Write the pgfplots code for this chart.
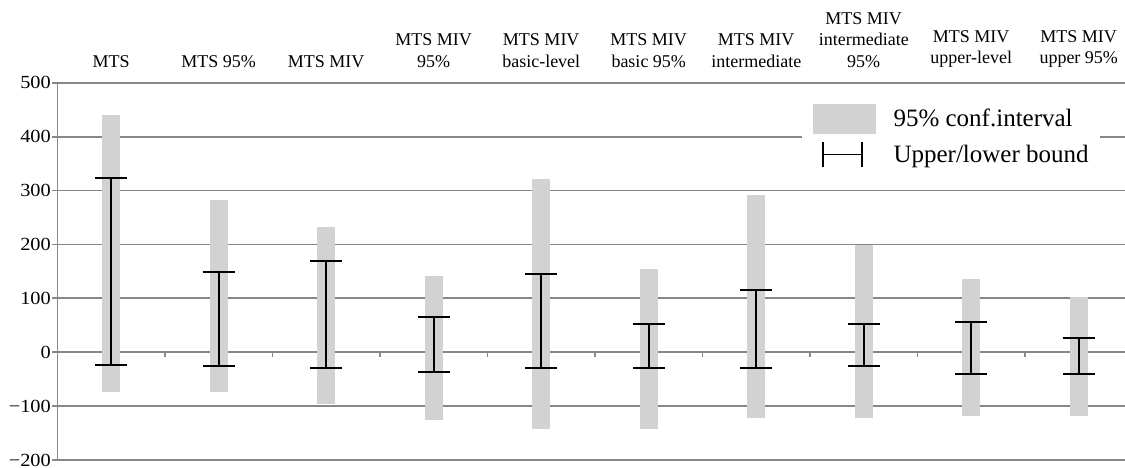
\documentclass[border=0pt]{standalone}
\usepackage{fontspec}
\setmainfont{Liberation Serif}
\newfontfamily\tickfont[FakeStretch=1.1]{Liberation Serif}
\usepackage{pgfplots}
\pgfplotsset{compat=1.18}
\definecolor{barfill}{RGB}{210,210,210}
\definecolor{gridc}{RGB}{135,135,135}
\begin{document}
\begin{tikzpicture}
\path[use as bounding box] (-57.5pt,-8pt) rectangle (1067.5pt,460pt);
\begin{axis}[
  scale only axis,
  width=1067.5pt, height=377.3pt,
  xmin=-0.5, xmax=9.43,
  ymin=-200, ymax=500,
  axis y line*=left,
  axis x line*=top,
  x axis line style={draw=none},
  y axis line style={gridc, line width=1.8pt},
  xtick={0,...,9},
  xtick style={draw=none},
  xticklabels={{MTS},{MTS 95\%},{MTS MIV},{MTS MIV\\95\%},{MTS MIV\\basic-level},{MTS MIV\\basic 95\%},{MTS MIV\\intermediate},{MTS MIV\\intermediate\\95\%},{MTS MIV\\upper-level},{MTS MIV\\upper 95\%}},
  xticklabel style={anchor=south, align=center, inner sep=0pt, font=\fontsize{18}{21.5}\selectfont, yshift=10pt},
  ytick={-200,-100,0,100,200,300,400,500},
  yticklabels={−200,−100,0,100,200,300,400,500},
  yticklabel style={font=\tickfont\fontsize{18.5}{20}\selectfont, inner sep=0pt, anchor=east, xshift=-1.5pt},
  ytick style={gridc, line width=1.8pt},
  tick align=outside,
  major tick length=5pt,
  ymajorgrids,
  major grid style={gridc, line width=1.8pt},
  clip=false,
  legend cell align=left,
  legend style={draw=none, fill=white, inner xsep=11pt, inner ysep=4pt,
    at={(axis description cs:0.6974,0.9541)}, anchor=north west,
    font=\fontsize{25}{30}\selectfont, row sep=7.5pt,
    nodes={inner sep=0pt},
    /tikz/every odd column/.append style={column sep=18pt}},
]
\addlegendimage{legend image code/.code={\fill[barfill] (0pt,-14.5pt) rectangle (62pt,14.5pt);}}
\addlegendentry{95\% conf.interval}
\addlegendimage{legend image code/.code={\draw[black, line width=1.8pt] (10pt,0pt)--(49pt,0pt) (10pt,-12.5pt)--(10pt,12.5pt) (49pt,-12.5pt)--(49pt,12.5pt);}}
\addlegendentry{Upper/lower bound}
% gray 95% confidence interval bars: midpoint +- half range
\addplot[draw=none, forget plot, error bars/.cd, y dir=both, y explicit,
  error mark=none, error bar style={barfill, line width=18pt}]
  coordinates {
  (0,183) +- (0,257)
  (1,104) +- (0,178)
  (2,68.5) +- (0,164.5)
  (3,7.5) +- (0,133.5)
  (4,89.5) +- (0,231.5)
  (5,6) +- (0,148)
  (6,85) +- (0,207)
  (7,38.5) +- (0,160.5)
  (8,8) +- (0,127)
  (9,-8) +- (0,111)
  };
% zero line category ticks
\addplot[forget plot, only marks, mark=|, mark size=2.2pt, gridc, line width=1.5pt]
  coordinates {(0.5,-4) (1.5,-4) (2.5,-4) (3.5,-4) (4.5,-4) (5.5,-4) (6.5,-4) (7.5,-4) (8.5,-4)};
% upper/lower bounds
\addplot[draw=none, forget plot, line width=2pt, error bars/.cd, y dir=both, y explicit,
  error mark=|, error mark options={black, line width=2pt, mark size=16pt},
  error bar style={black, line width=1.9pt}]
  coordinates {
  (0,150.5) +- (0,173.5)
  (1,61) +- (0,87)
  (2,70.5) +- (0,99.5)
  (3,14) +- (0,51)
  (4,58) +- (0,87)
  (5,12) +- (0,41)
  (6,43) +- (0,72)
  (7,13.5) +- (0,39.5)
  (8,8) +- (0,48)
  (9,-6.5) +- (0,33.5)
  };
\end{axis}
\end{tikzpicture}
\end{document}
